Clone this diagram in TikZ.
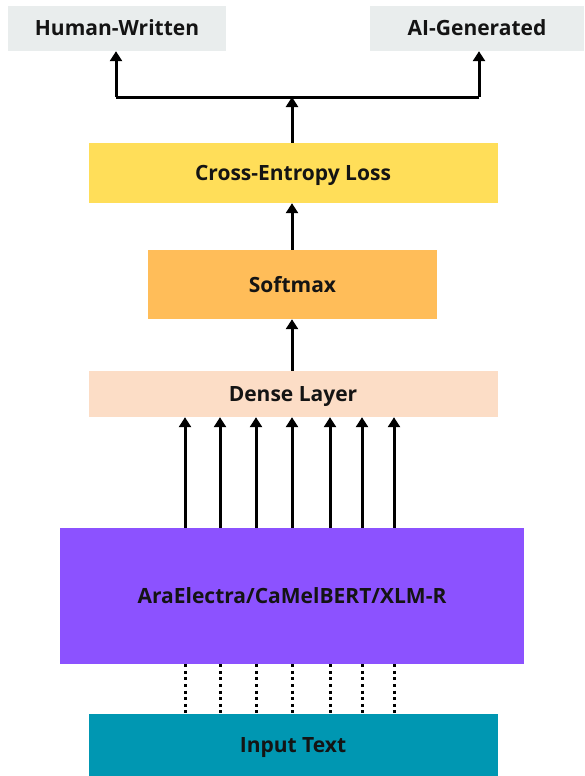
\documentclass[tikz,border=0pt]{standalone}
\usepackage{fontspec}
\setmainfont{Open Sans}
\usetikzlibrary{arrows.meta}
\definecolor{graybox}{HTML}{E9EDED}
\definecolor{cey}{HTML}{FFDE59}
\definecolor{smo}{HTML}{FFBD59}
\definecolor{dens}{HTML}{FCDDC6}
\definecolor{encp}{HTML}{8C52FF}
\definecolor{inpt}{HTML}{0097B2}
\tikzset{
  box/.style={inner sep=0pt, font=\fontsize{21}{24}\selectfont\bfseries, text=black!92, text height=15pt, text depth=0pt},
  arr/.style={line width=3pt, -{Triangle[width=12pt,length=10pt]}},
  ln/.style={line width=3pt},
  dotl/.style={line width=3pt, dash pattern=on 3pt off 3.6pt},
}
\begin{document}
\begin{tikzpicture}[x=1pt,y=-1pt]
\useasboundingbox (0,0) rectangle (584,776);
\node[box, fill=graybox, minimum width=218pt, minimum height=45pt] (hw) at (117,28.5) {Human-Written};
\node[box, fill=graybox, minimum width=214pt, minimum height=45pt] (ai) at (477,28.5) {AI-Generated};
\node[box, fill=cey, minimum width=409pt, minimum height=60pt] (ce) at (293,173) {Cross-Entropy Loss};
\node[box, fill=smo, minimum width=289pt, minimum height=69pt] (sm) at (292.5,284.5) {Softmax};
\node[box, fill=dens, minimum width=409pt, minimum height=46pt] (dense) at (293,394) {Dense Layer};
\node[box, fill=encp, minimum width=464pt, minimum height=136pt] (enc) at (292,596) {AraElectra/CaMelBERT/XLM-R};
\node[box, fill=inpt, minimum width=409pt, minimum height=62pt] (inp) at (293,745) {Input Text};
\coordinate (j) at (292,97);
\coordinate (jl) at (116,97);
\coordinate (jr) at (479,97);
\draw[ln] (jl) -- (jr);
\draw[arr] (jl) -- (jl |- hw.south);
\draw[arr] (jr) -- (jr |- ai.south);
\draw[arr] (ce.north -| j) -- (j);
\draw[arr] (sm.north -| j) -- (ce.south -| j);
\draw[arr] (dense.north -| j) -- (sm.south -| j);
\foreach \x in {185,220,256,292,330,362,394}{
  \draw[arr] (enc.north -| \x,0) -- (dense.south -| \x,0);
  \draw[dotl] (enc.south -| \x,0) -- (inp.north -| \x,0);
}
\end{tikzpicture}
\end{document}
